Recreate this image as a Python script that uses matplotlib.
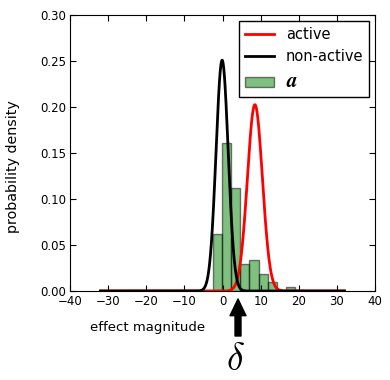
import numpy as np
import matplotlib
matplotlib.use('Agg')
import matplotlib.pyplot as plt

plt.rcParams['mathtext.fontset'] = 'cm'

# histogram of observed effects
bin_edges = [-2.4, -0.03, 2.34, 4.71, 7.08, 9.45, 11.82, 14.19, 16.56, 18.93, 21.3]
bin_heights = [0.062, 0.161, 0.112, 0.029, 0.034, 0.019, 0.010, 0.0, 0.004, 0.001]

# fitted densities (mean, sd)
active_mu, active_sd = 8.5, 1.97
nonactive_mu, nonactive_sd = -0.1, 1.59
x_range = (-32, 32)


def gauss(x, mu, sd):
    return np.exp(-0.5 * ((x - mu) / sd) ** 2) / (sd * np.sqrt(2 * np.pi))


fig = plt.figure(figsize=(3.9, 3.8), dpi=100)
ax = fig.add_axes([70/390, 89/380, 305/390, 276/380])

edges = np.array(bin_edges)
ax.bar(edges[:-1], bin_heights, width=np.diff(edges), align='edge',
       color='green', alpha=0.5, edgecolor='black', linewidth=1, label=r'$\boldsymbol{a}$')

xs = np.linspace(x_range[0], x_range[1], 1000)
ax.plot(xs, gauss(xs, active_mu, active_sd), color='red', lw=2, label='active')
ax.plot(xs, gauss(xs, nonactive_mu, nonactive_sd), color='black', lw=2, label='non-active')

ax.set_xlim(-40, 40)
ax.set_ylim(0, 0.30)
ax.set_xticks(range(-40, 41, 10))
ax.set_yticks(np.arange(0, 0.301, 0.05))
ax.set_yticklabels(['%.2f' % v for v in np.arange(0, 0.301, 0.05)])
ax.tick_params(direction='in', top=True, right=True, labelsize=8.5, length=4, pad=3)
ax.set_ylabel('probability density', fontsize=10.3)
ax.yaxis.set_label_coords(-0.164, 0.45)

leg = ax.legend(loc='upper right', fontsize=10.5, fancybox=False, framealpha=1,
                edgecolor='black', borderaxespad=0.4)
leg.get_frame().set_linewidth(1)
leg.get_texts()[2].set_fontsize(15)

fig.text(148/390, 1 - 328/380, 'effect magnitude', fontsize=9.5, ha='center', va='center')
ax.annotate('', xy=(238/390, 1 - 299/380), xytext=(238/390, 1 - 336/380),
            xycoords='figure fraction', textcoords='figure fraction',
            arrowprops=dict(facecolor='black', edgecolor='black', width=4.3,
                            headwidth=11.5, headlength=12, shrink=0))
fig.text(235/390, 1 - 360/380, r'$\delta$', fontsize=27, ha='center', va='center')

fig.savefig('out.png', dpi=100)
